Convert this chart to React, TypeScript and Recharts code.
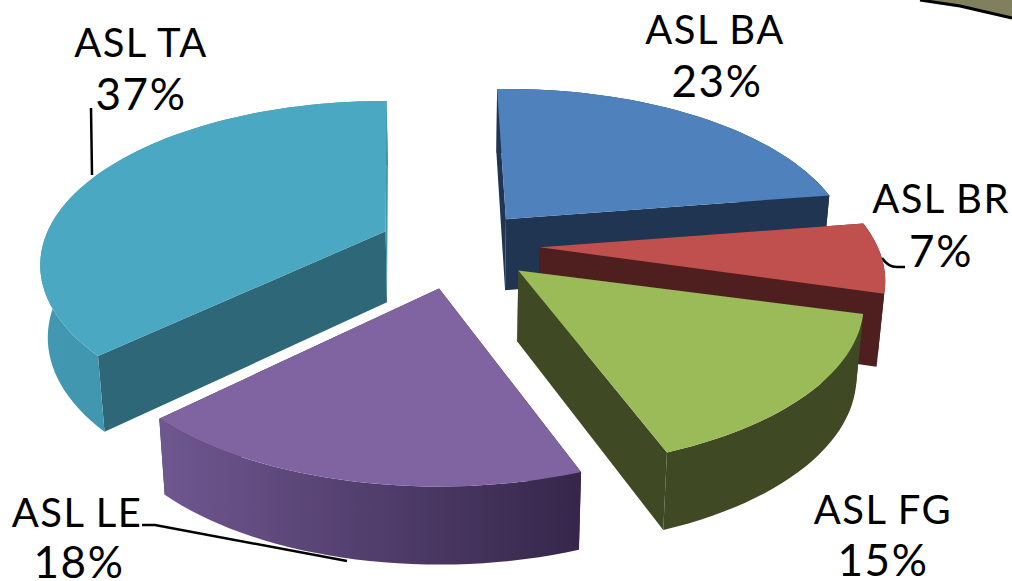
import { PieChart, Pie } from 'recharts';

// back to front, so the nearer slices paint over the farther ones
const names = ['ASL TA', 'ASL BA', 'ASL BR', 'ASL FG', 'ASL LE'];
const shares = [37, 23, 7, 15, 18];
const topColors = ['#4aa8c2', '#4f81bd', '#c0504d', '#9bbb59', '#8064a2'];
const startCutColors = ['#2e6777', '#1f3552', '#4f1f1f', '#3f4a24', '#35264a'];
const endCutColors = ['#3f95ac', '#1f3552', '#4f1f1f', '#3f4a24', '#35264a'];
const rimColors = ['url(#rimTA)', '#1f3552', '#4f1f1f', '#3f4a24', 'url(#rimLE)'];

const labelSpots = [
  [141, 57, 141, 110],
  [715, 44, 717, 97],
  [941, 213, 941, 267],
  [883, 524, 883, 576],
  [77, 527, 79, 578],
];

// the original's 3D view pulls slices slightly out of true
const explodeScale = [1, 0.9, 1, 1, 1.2];
const sliceTurn = [-2, 0, 0, 1, 0];

const TILT = 0.465;
const PERSPECTIVE = 0.206;
const EXPLODE = 80;
const DEPTH = 71;
const BASE_SHRINK = 0.982;
const RAD = Math.PI / 180;

function project(angle: number, r: number, R: number) {
  const gx = r * Math.cos(angle * RAD);
  const gy = -r * Math.sin(angle * RAD);
  const f = 1 / (1 - (PERSPECTIVE * gy) / R);
  return { x: gx * f, y: TILT * gy * f, drop: DEPTH * (1 + (0.1 * gy) / R) };
}

function Slice3D(props: any) {
  const { cx, cy, outerRadius: R, startAngle, endAngle, index } = props;
  const mid = (startAngle + endAngle) / 2;
  const out = EXPLODE * explodeScale[index];
  const ox = cx + out * Math.cos(mid * RAD);
  const oy = cy - out * TILT * Math.sin(mid * RAD);
  const steps = Math.max(6, Math.ceil(Math.abs(endAngle - startAngle) / 2));
  const arc = [];
  for (let i = 0; i <= steps; i++) {
    arc.push(project(startAngle + sliceTurn[index] + ((endAngle - startAngle) * i) / steps, R, R));
  }
  const apex = project(0, 0, R);
  const pt = (p: any) => `${ox + p.x},${oy + p.y}`;
  const base = (p: any) => `${cx + (ox + p.x - cx) * BASE_SHRINK},${oy + p.y + p.drop}`;
  const first = arc[0];
  const last = arc[arc.length - 1];
  const top = `M${pt(apex)} L${arc.map(pt).join(' L')} Z`;
  const rim = `M${arc.map(pt).join(' L')} L${[...arc].reverse().map(base).join(' L')} Z`;
  const cut = (p: any) => `M${pt(apex)} L${pt(p)} L${base(p)} L${base(apex)} Z`;
  return (
    <g>
      <path d={cut(first)} fill={startCutColors[index]} />
      <path d={cut(last)} fill={endCutColors[index]} />
      <path d={rim} fill={rimColors[index]} />
      <path d={top} fill={topColors[index]} />
    </g>
  );
}

function sliceLabel(props: any) {
  const { index } = props;
  const [x1, y1, x2, y2] = labelSpots[index];
  const nameStyle = { fontFamily: 'Lato', fontSize: 40, letterSpacing: 1.4, fill: '#000' };
  const pctStyle = { fontFamily: 'Lato', fontSize: 44, letterSpacing: 1.5, fill: '#000' };
  return (
    <g key={names[index]}>
      <text x={x1} y={y1} textAnchor="middle" style={nameStyle}>{names[index]}</text>
      <text x={x2} y={y2} textAnchor="middle" style={pctStyle}>{shares[index]}%</text>
    </g>
  );
}

export default function App() {
  const data = names.map((name, i) => ({ name, value: shares[i] }));
  return (
    <div style={{ position: 'fixed', left: 0, top: 0, width: 1012, height: 581, background: '#fff' }}>
      <PieChart width={1012} height={581} margin={{ top: 0, right: 0, bottom: 0, left: 0 }}>
        <defs>
          <linearGradient id="rimLE" x1="0" y1="0" x2="1" y2="0">
            <stop offset="0%" stopColor="#6f5790" />
            <stop offset="100%" stopColor="#35264a" />
          </linearGradient>
          <linearGradient id="rimTA" x1="0" y1="0" x2="1" y2="0">
            <stop offset="0%" stopColor="#4298b0" />
            <stop offset="100%" stopColor="#3b90a8" />
          </linearGradient>
        </defs>
        <path d="M920,0 L960,6 L1012,18 L1012,0 Z" fill="#80805f" />
        <path d="M920,0 L960,6 L1012,18" fill="none" stroke="#000" strokeWidth={3} />
        <Pie
          data={data}
          dataKey="value"
          nameKey="name"
          cx={460}
          cy={245}
          outerRadius={338}
          startAngle={-135}
          endAngle={-495}
          stroke="none"
          shape={Slice3D}
          label={sliceLabel}
          labelLine={false}
          isAnimationActive={false}
        />
        <path d="M91,108 L92,175" fill="none" stroke="#000" strokeWidth={2.5} />
        <path d="M142,525 L155,525 L347,561" fill="none" stroke="#000" strokeWidth={2.5} />
        <path d="M882,258 Q888,267 897,267 L905,267" fill="none" stroke="#000" strokeWidth={2.5} />
      </PieChart>
    </div>
  );
}
